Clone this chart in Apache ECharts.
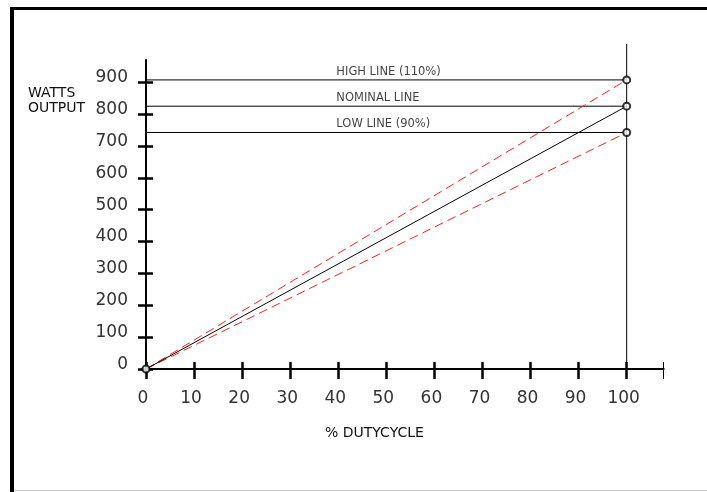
<!DOCTYPE html>
<html>
<head>
<meta charset="utf-8">
<script src="https://cdn.jsdelivr.net/npm/echarts@6/dist/echarts.min.js"></script>
<style>
  html, body { margin: 0; padding: 0; background: #fff; }
  #chart { width: 707px; height: 492px; }
</style>
</head>
<body>
<div id="chart"></div>
<script>
// duty cycle (%) at the two ends of each line
const dutyCycle = [0, 100];
const nominalWatts = [0, 825];
const highWatts = [0, 907.5];
const lowWatts = [0, 742.5];

const lineNames = ['HIGH LINE (110%)', 'NOMINAL LINE', 'LOW LINE (90%)'];
const lineLevels = [907.5, 825, 742.5];
const labelAtX = 39.6;

const xTicks = [0, 10, 20, 30, 40, 50, 60, 70, 80, 90, 100];
const yTicks = [0, 100, 200, 300, 400, 500, 600, 700, 800, 900];
const X_MAX = 107.7;
const Y_MAX = 970;
const FULL_LINE_TOP = 1020;

const FONT = '"DejaVu Sans", sans-serif';
const chart = echarts.init(document.getElementById('chart'));

const pairs = (xs, ys) => xs.map((x, i) => [x, ys[i]]);

// one axis draws the outside half of the tick, a second one the inside half
const xAxisBase = { type: 'value', position: 'bottom', min: 0, max: X_MAX, splitLine: { show: false } };
const yAxisBase = { type: 'value', position: 'left', min: 0, max: Y_MAX, splitLine: { show: false } };
const tickOnly = { axisLine: { show: false }, axisLabel: { show: false } };

const option = {
  animation: false,
  grid: { left: 146, right: 43.3, top: 60, bottom: 123 },
  xAxis: [
    {
      ...xAxisBase,
      axisLine: { lineStyle: { color: '#000', width: 2 } },
      axisTick: { customValues: xTicks, length: 10, lineStyle: { color: '#000', width: 2.5 } },
      axisLabel: {
        customValues: xTicks,
        margin: 21,
        padding: [0, 6, 0, 0],
        color: '#333',
        fontFamily: FONT,
        fontSize: 17,
      },
    },
    {
      ...xAxisBase, ...tickOnly,
      axisTick: { customValues: xTicks, inside: true, length: 7, lineStyle: { color: '#000', width: 2.5 } },
    },
    {
      ...xAxisBase, ...tickOnly,
      axisTick: { customValues: [X_MAX], length: 10, lineStyle: { color: '#000', width: 1 } },
    },
    {
      ...xAxisBase, ...tickOnly,
      axisTick: { customValues: [X_MAX], inside: true, length: 7, lineStyle: { color: '#000', width: 1 } },
    },
  ],
  yAxis: [
    {
      ...yAxisBase,
      axisLine: { lineStyle: { color: '#000', width: 2 } },
      axisTick: { customValues: yTicks, length: 8, lineStyle: { color: '#000', width: 2.5 } },
      axisLabel: {
        customValues: yTicks,
        margin: 18,
        verticalAlign: 'bottom',
        lineHeight: 9,
        color: '#333',
        fontFamily: FONT,
        fontSize: 17,
      },
    },
    {
      ...yAxisBase, ...tickOnly,
      axisTick: { customValues: yTicks, inside: true, length: 7, lineStyle: { color: '#000', width: 2.5 } },
    },
  ],
  series: [
    {
      name: 'limit',
      type: 'line',
      clip: false,
      symbol: 'none',
      silent: true,
      lineStyle: { color: '#000', width: 1 },
      data: [[dutyCycle[1], 0], [dutyCycle[1], FULL_LINE_TOP]],
    },
    ...lineLevels.map((v) => ({
      type: 'line',
      symbol: 'none',
      silent: true,
      lineStyle: { color: '#000', width: 1 },
      data: [[0, v], [dutyCycle[1], v]],
    })),
    {
      name: 'high',
      type: 'line',
      symbol: 'none',
      lineStyle: { color: '#ff2020', width: 1, type: [9, 5] },
      data: pairs(dutyCycle, highWatts),
    },
    {
      name: 'low',
      type: 'line',
      symbol: 'none',
      lineStyle: { color: '#ff2020', width: 1, type: [9, 5] },
      data: pairs(dutyCycle, lowWatts),
    },
    {
      name: 'nominal',
      type: 'line',
      symbol: 'none',
      lineStyle: { color: '#000', width: 1 },
      data: pairs(dutyCycle, nominalWatts),
    },
    {
      name: 'ends',
      type: 'scatter',
      symbol: 'emptyCircle',
      symbolSize: 7,
      itemStyle: { color: '#000', borderColor: '#000', borderWidth: 1.3 },
      data: [[0, 0]].concat(lineLevels.map((v) => [dutyCycle[1], v])),
      z: 5,
    },
    {
      name: 'names',
      type: 'scatter',
      symbolSize: 0,
      silent: true,
      data: lineLevels.map((v, i) => ({ value: [labelAtX, v], name: lineNames[i] })),
      label: {
        show: true,
        formatter: (p) => p.name,
        position: [0, -14],
        align: 'left',
        color: '#111',
        fontFamily: FONT,
        fontSize: 11.5,
      },
    },
  ],
  graphic: [
    { type: 'rect', shape: { x: 10, y: 7, width: 697, height: 3 }, style: { fill: '#000' } },
    { type: 'rect', shape: { x: 10, y: 7, width: 4, height: 485 }, style: { fill: '#000' } },
    { type: 'rect', shape: { x: 14, y: 490, width: 693, height: 1 }, style: { fill: '#ccc' } },
    {
      type: 'text', left: 28, top: 86,
      style: { text: 'WATTS\nOUTPUT', fill: '#111', font: '14px ' + FONT, lineHeight: 15 },
    },
    {
      type: 'text', left: 325, top: 426,
      style: { text: '% DUTYCYCLE', fill: '#111', font: '14px ' + FONT },
    },
  ],
};

chart.setOption(option);
</script>
</body>
</html>
